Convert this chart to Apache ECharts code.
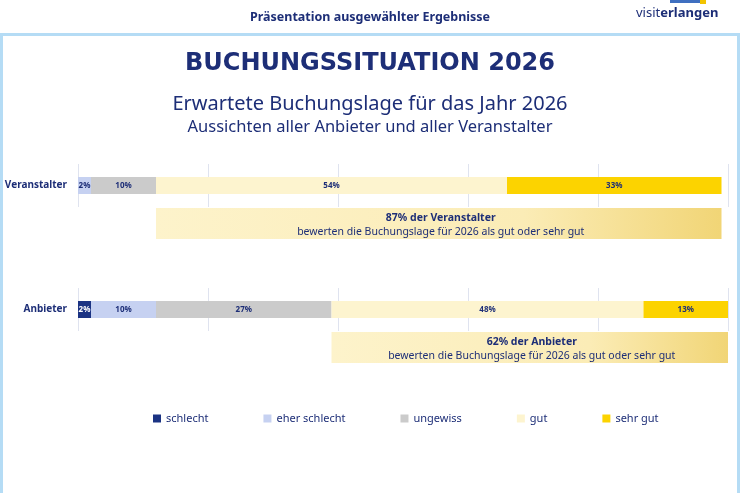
<!DOCTYPE html>
<html>
<head>
<meta charset="utf-8">
<script src="https://cdn.jsdelivr.net/npm/echarts@6/dist/echarts.min.js"></script>
<style>
  html, body { margin: 0; padding: 0; background: #fff; }
  #chart { width: 740px; height: 493px; }
</style>
</head>
<body>
<div id="chart"></div>
<script>
// rows of the chart
var categories = ['Veranstalter', 'Anbieter'];
var levels = ['schlecht', 'eher schlecht', 'ungewiss', 'gut', 'sehr gut'];
var schlecht = [0, 2];
var eherSchlecht = [2, 10];
var ungewiss = [10, 27];
var gut = [54, 48];
var sehrGut = [33, 13];
// shares quoted in the summary boxes
var summaryShare = [87, 62];
var xMin = 0, xMax = 100, xStep = 20;

var navy = '#1d2e77';
var font = 'Noto Sans';
var levelColors = ['#1b3383', '#c6d1f1', '#cbcbcb', '#fdf4cf', '#fcd300'];
var levelValues = [schlecht, eherSchlecht, ungewiss, gut, sehrGut];

var rowTop = [164, 288];
var boxTop = [208, 332];

var grids = [], xAxes = [], yAxes = [], series = [];

categories.forEach(function(cat, i) {
    // bar row
    grids.push({left: 78, right: 12, top: rowTop[i], height: 43, outerBoundsMode: 'none'});
    xAxes.push({
        type: 'value', gridIndex: grids.length - 1, min: xMin, max: xMax, interval: xStep,
        axisLabel: {show: false}, axisLine: {show: false}, axisTick: {show: false},
        splitLine: {show: true, lineStyle: {color: '#dfe3ef', width: 1}}
    });
    yAxes.push({
        type: 'category', gridIndex: grids.length - 1, data: [cat],
        axisLine: {show: false}, axisTick: {show: false},
        axisLabel: {color: navy, fontFamily: font, fontWeight: 'bold', fontSize: 10, margin: 11}
    });
    var rowIdx = grids.length - 1;
    levels.forEach(function(name, k) {
        series.push({
            name: name, type: 'bar', stack: 'row' + i,
            xAxisIndex: rowIdx, yAxisIndex: rowIdx,
            barWidth: 17,
            itemStyle: {color: levelColors[k]},
            label: {
                show: true, position: 'inside',
                color: k === 0 ? '#fff' : navy,
                fontFamily: font, fontWeight: 'bold', fontSize: 8,
                formatter: function(p) { return p.value ? p.value + '%' : ''; }
            },
            data: [levelValues[k][i]]
        });
    });

    // summary box under the row: starts where "gut" starts
    grids.push({left: 78, right: 12, top: boxTop[i], height: 31, outerBoundsMode: 'none'});
    xAxes.push({
        type: 'value', gridIndex: grids.length - 1, min: xMin, max: xMax,
        show: false, splitLine: {show: false}
    });
    yAxes.push({type: 'category', gridIndex: grids.length - 1, data: [''], show: false});
    var boxIdx = grids.length - 1;
    series.push({
        name: 'offset' + i, type: 'bar', stack: 'box' + i,
        xAxisIndex: boxIdx, yAxisIndex: boxIdx, barWidth: 31,
        itemStyle: {color: 'transparent'}, silent: true,
        data: [schlecht[i] + eherSchlecht[i] + ungewiss[i]]
    });
    series.push({
        name: 'summary' + i, type: 'bar', stack: 'box' + i,
        xAxisIndex: boxIdx, yAxisIndex: boxIdx, barWidth: 31,
        itemStyle: {
            color: new echarts.graphic.LinearGradient(0, 0, 1, 0, [
                {offset: 0, color: '#fdf3cb'},
                {offset: 0.65, color: '#fbecb6'},
                {offset: 1, color: '#f1d576'}
            ])
        },
        label: {
            show: true, position: 'inside', color: navy, fontFamily: font,
            offset: [2, 1.5],
            formatter: '{b|' + summaryShare[i] + '% der ' + cat + '}\n{n|bewerten die Buchungslage für 2026 als gut oder sehr gut}',
            rich: {
                b: {fontWeight: 'bold', fontSize: 10.5, color: navy, fontFamily: font, lineHeight: 14},
                n: {fontSize: 10.5, color: navy, fontFamily: font, lineHeight: 14}
            }
        },
        data: [gut[i] + sehrGut[i]]
    });
});

var chart = echarts.init(document.getElementById('chart'));
chart.setOption({
    animation: false,
    backgroundColor: '#fff',
    title: [
        {text: 'Präsentation ausgewählter Ergebnisse', left: 'center', top: 6,
         textStyle: {color: navy, fontFamily: font, fontWeight: 'bold', fontSize: 12.5}},
        {text: 'BUCHUNGSSITUATION 2026', left: 'center', top: 47,
         textStyle: {color: navy, fontFamily: 'DejaVu Sans', fontWeight: 'bold', fontSize: 24}},
        {text: 'Erwartete Buchungslage für das Jahr 2026', left: 'center', top: 89,
         textStyle: {color: navy, fontFamily: font, fontWeight: 'normal', fontSize: 20}},
        {text: 'Aussichten aller Anbieter und aller Veranstalter', left: 'center', top: 114,
         textStyle: {color: navy, fontFamily: font, fontWeight: 'normal', fontSize: 16.5}}
    ],
    graphic: [
        {type: 'rect', shape: {x: 1.5, y: 34.5, width: 737, height: 470},
         style: {fill: 'none', stroke: '#b5dcf5', lineWidth: 3}, silent: true},
        {type: 'text', left: 636, top: 7, silent: true,
         style: {
             text: '{a|visit}{b|erlangen}', fill: navy,
             rich: {
                 a: {fontFamily: font, fontSize: 13, color: navy},
                 b: {fontFamily: font, fontSize: 13, fontWeight: 'bold', color: navy}
             }
         }},
        {type: 'rect', shape: {x: 670, y: 0, width: 30, height: 3},
         style: {fill: '#3f6fc0'}, silent: true},
        {type: 'rect', shape: {x: 700, y: 0, width: 6, height: 4},
         style: {fill: '#f2c400'}, silent: true}
    ],
    legend: {
        data: levels, left: 148, top: 408,
        icon: 'rect', itemWidth: 8, itemHeight: 8, itemGap: 55,
        textStyle: {color: navy, fontFamily: font, fontSize: 11}
    },
    grid: grids,
    xAxis: xAxes,
    yAxis: yAxes,
    series: series
});
</script>
</body>
</html>
